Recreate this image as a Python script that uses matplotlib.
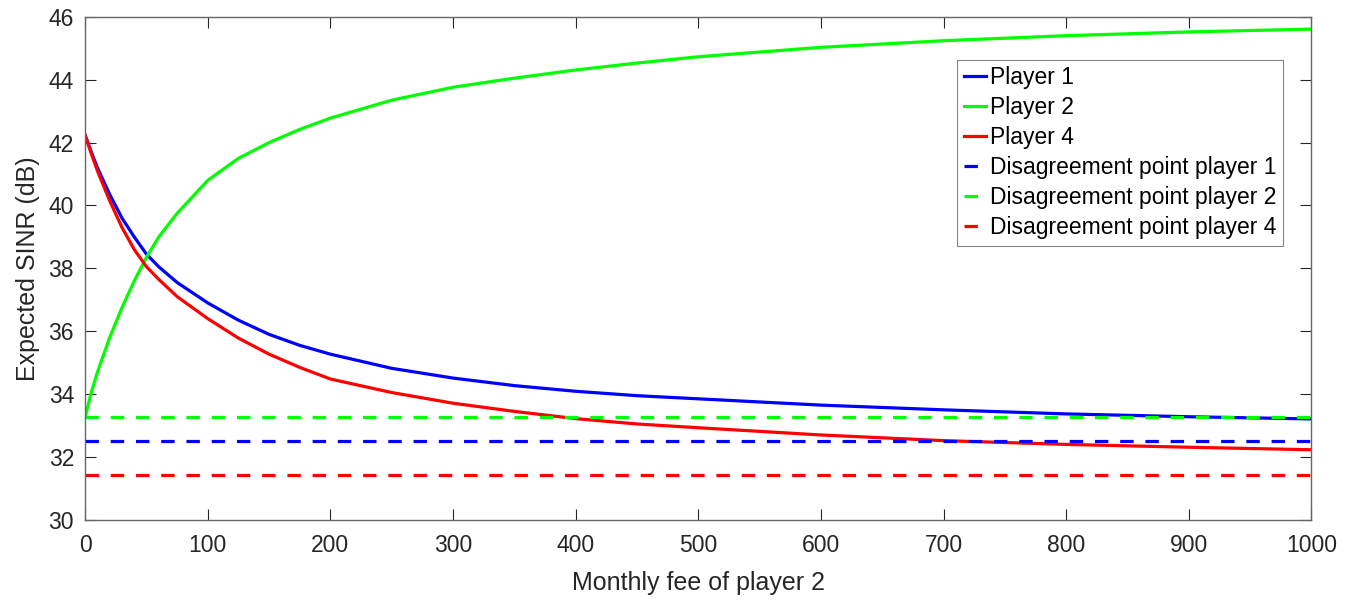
import numpy as np
import matplotlib
matplotlib.use("Agg")
import matplotlib.pyplot as plt

plt.rcParams['font.family'] = ['Liberation Sans', 'DejaVu Sans']

# monthly fee of player 2 (x samples)
fee = [0, 5, 10, 20, 30, 40, 50, 60, 75, 100, 125, 150, 175, 200, 250, 300,
       350, 400, 450, 500, 600, 700, 800, 900, 1000]

sinr_p1 = [42.23, 41.7, 41.2, 40.35, 39.6, 39.0, 38.45, 38.05, 37.55, 36.9,
           36.35, 35.9, 35.55, 35.27, 34.82, 34.51, 34.27, 34.09, 33.95,
           33.85, 33.65, 33.5, 33.37, 33.28, 33.21]
sinr_p2 = [33.28, 34.05, 34.7, 35.8, 36.75, 37.6, 38.35, 39.0, 39.75,
           40.8, 41.5, 42.0, 42.42, 42.78, 43.35, 43.76, 44.05, 44.31, 44.53,
           44.73, 45.03, 45.24, 45.4, 45.52, 45.61]
sinr_p4 = [42.23, 41.65, 41.1, 40.15, 39.3, 38.6, 38.05, 37.65, 37.1, 36.4,
           35.78, 35.27, 34.85, 34.48, 34.05, 33.71, 33.45, 33.22, 33.05,
           32.93, 32.7, 32.52, 32.4, 32.31, 32.23]

disagree_p1 = 32.5
disagree_p2 = 33.28
disagree_p4 = 31.42

blue = '#0000ff'
green = '#00ff00'
red = '#ff0000'

fig = plt.figure(figsize=(13.52, 6.01), dpi=100)
ax = fig.add_axes([0.063, 0.135, 0.907, 0.837])

lw = 2.3
dash = (0, (4.2, 3.7))
ax.plot(fee, sinr_p1, color=blue, lw=lw, label='Player 1')
ax.plot(fee, sinr_p2, color=green, lw=lw, label='Player 2')
ax.plot(fee, sinr_p4, color=red, lw=lw, label='Player 4')
ax.plot([fee[0], fee[-1]], [disagree_p1] * 2, color=blue, lw=lw, ls=dash,
        label='Disagreement point player 1')
ax.plot([fee[0], fee[-1]], [disagree_p2] * 2, color=green, lw=lw, ls=dash,
        label='Disagreement point player 2')
ax.plot([fee[0], fee[-1]], [disagree_p4] * 2, color=red, lw=lw, ls=dash,
        label='Disagreement point player 4')

ax.set_xlim(0, 1000)
ax.set_ylim(30, 46)
ax.set_xticks(np.arange(0, 1001, 100))
ax.set_yticks(np.arange(30, 47, 2))

axc = '#262626'
for s in ax.spines.values():
    s.set_color('#666666')
    s.set_linewidth(1.0)
ax.tick_params(direction='in', top=True, right=True, length=8, width=0.8,
               colors=axc, labelsize=16.5)
ax.tick_params(axis='x', pad=10)
ax.tick_params(axis='y', pad=8)
ax.set_xlabel('Monthly fee of player 2', fontsize=18, color=axc, labelpad=10)
ax.set_ylabel('Expected SINR (dB)', fontsize=18, color=axc, labelpad=6)

leg = ax.legend(loc='upper right', bbox_to_anchor=(0.977, 0.915), fontsize=16.5,
                frameon=True, fancybox=False, handlelength=1.0,
                handletextpad=0.15, labelspacing=0.3, borderpad=0.3,
                borderaxespad=0)
leg.get_frame().set_edgecolor('#666666')
leg.get_frame().set_linewidth(0.8)

fig.savefig('out.png', dpi=100)
